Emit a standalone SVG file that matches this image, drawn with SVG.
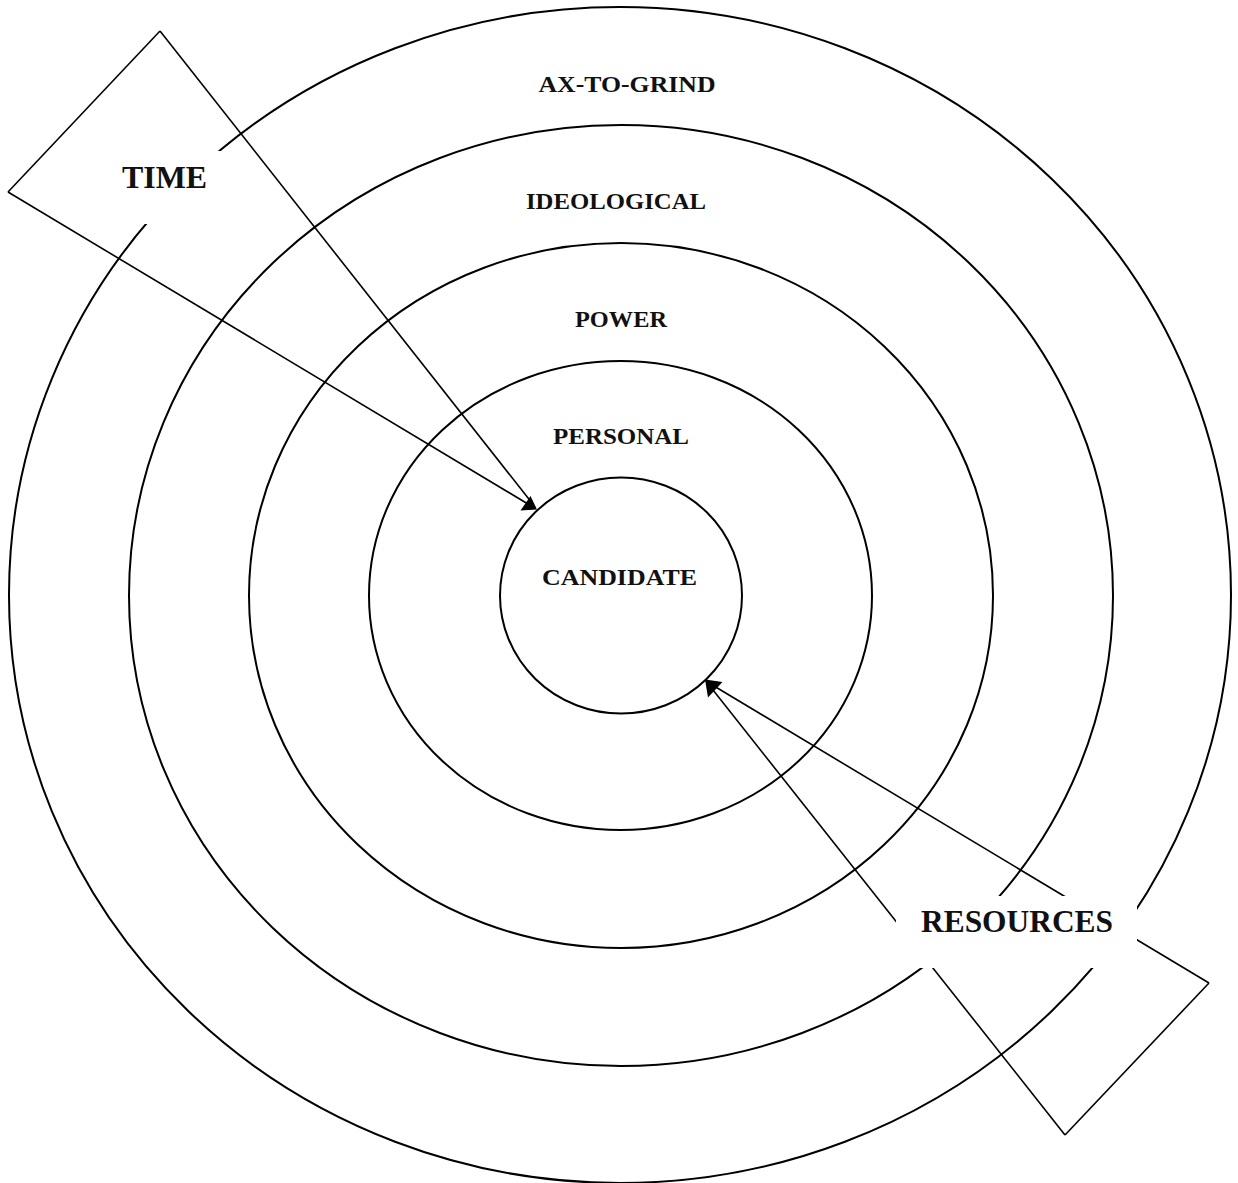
<svg xmlns="http://www.w3.org/2000/svg" width="1238" height="1183" viewBox="0 0 1238 1183">
<style>
.ring{fill:none;stroke:#000;stroke-width:2}
.lbl{font-family:"Liberation Serif","Times New Roman",serif;font-weight:bold;font-size:24px;fill:#111;text-anchor:middle}
.big{font-size:31px}
.ln{fill:none;stroke:#000;stroke-width:1.6}
.head{fill:#000;stroke:none}
.box{fill:#fff;stroke:none}
</style>
<rect width="1238" height="1183" fill="#fff"/>
<g id="ring-ax-to-grind">
<ellipse class="ring" cx="620" cy="595" rx="611" ry="588"/>
<text class="lbl" x="627" y="92" textLength="177" lengthAdjust="spacingAndGlyphs">AX-TO-GRIND</text>
</g>
<g id="ring-ideological">
<ellipse class="ring" cx="621" cy="595.5" rx="492" ry="470.5"/>
<text class="lbl" x="616" y="209" textLength="180" lengthAdjust="spacingAndGlyphs">IDEOLOGICAL</text>
</g>
<g id="ring-power">
<ellipse class="ring" cx="621" cy="595.5" rx="372" ry="352.5"/>
<text class="lbl" x="621" y="327" textLength="92" lengthAdjust="spacingAndGlyphs">POWER</text>
</g>
<g id="ring-personal">
<ellipse class="ring" cx="620.5" cy="595.5" rx="251.5" ry="234.5"/>
<text class="lbl" x="621" y="444" textLength="136" lengthAdjust="spacingAndGlyphs">PERSONAL</text>
</g>
<g id="candidate">
<ellipse class="ring" cx="621" cy="595.5" rx="121" ry="118"/>
<text class="lbl" x="619.5" y="585" textLength="155" lengthAdjust="spacingAndGlyphs">CANDIDATE</text>
</g>
<g id="connectors">
<line class="ln" x1="160" y1="31" x2="532" y2="503"/>
<line class="ln" x1="8" y1="192" x2="528" y2="504"/>
<polygon class="head" points="537,509.5 520.5,510.5 530.5,496"/>
<line class="ln" x1="1209" y1="983" x2="714" y2="686"/>
<line class="ln" x1="1065" y1="1135" x2="713" y2="690"/>
<polygon class="head" points="705,679.5 722.5,682 708,697.5"/>
</g>
<g id="time">
<line class="ln" x1="8" y1="192" x2="160" y2="31"/>
<rect class="box" x="100" y="151" width="124" height="73"/>
<text class="lbl big" x="164.5" y="188" textLength="85" lengthAdjust="spacingAndGlyphs">TIME</text>
</g>
<g id="resources">
<line class="ln" x1="1209" y1="983" x2="1065" y2="1135"/>
<rect class="box" x="896" y="896" width="241" height="72"/>
<text class="lbl big" x="1017" y="932" textLength="192" lengthAdjust="spacingAndGlyphs">RESOURCES</text>
</g>
</svg>
